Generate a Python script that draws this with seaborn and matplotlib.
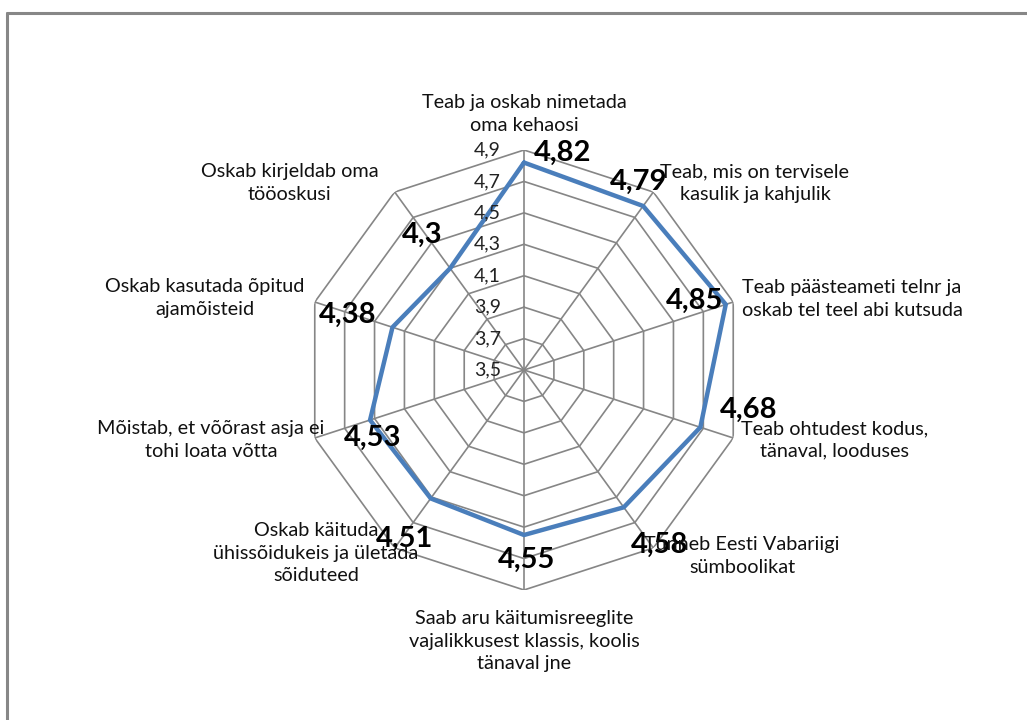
import numpy as np
import matplotlib
matplotlib.use("Agg")
import matplotlib.pyplot as plt
from matplotlib.lines import Line2D
import seaborn as sns

sns.set_style("white")
plt.rcParams["font.family"] = ["Lato", "DejaVu Sans"]

categories = [
    "Teab ja oskab nimetada\noma kehaosi",
    "Teab, mis on tervisele\nkasulik ja kahjulik",
    "Teab päästeameti telnr ja\noskab tel teel abi kutsuda",
    "Teab ohtudest kodus,\ntänaval, looduses",
    "Tunneb Eesti Vabariigi\nsümboolikat",
    "Saab aru käitumisreeglite\nvajalikkusest klassis, koolis\ntänaval jne",
    "Oskab käituda\nühissõidukeis ja ületada\nsõiduteed",
    "Mõistab, et võõrast asja ei\ntohi loata võtta",
    "Oskab kasutada õpitud\najamõisteid",
    "Oskab kirjeldab oma\ntööoskusi",
]
values = [4.82, 4.79, 4.85, 4.68, 4.58, 4.55, 4.51, 4.53, 4.38, 4.3]
value_labels = ["4,82", "4,79", "4,85", "4,68", "4,58", "4,55", "4,51", "4,53", "4,38", "4,3"]
ticks = [3.5, 3.7, 3.9, 4.1, 4.3, 4.5, 4.7, 4.9]
tick_labels = ["3,5", "3,7", "3,9", "4,1", "4,3", "4,5", "4,7", "4,9"]

# label placement (offsets in pixels from the data point)
val_off = [(39, 10), (-5, 24), (-31, 4), (48, 17), (36, -38), (3, -25), (-26, -40), (3, -18), (-45, 12), (-28, 33)]
cat_pos = [(524, 114), (755, 183), (852, 299), (835, 440), (742, 556), (524, 641), (316, 553), (211, 440), (205, 298), (290, 183)]

n = len(categories)
angles = np.arange(n) * 2 * np.pi / n
W, H = 1027, 720
fig = plt.figure(figsize=(W / 100, H / 100), dpi=100)
cx, cy, R = 524, 370, 220
ax = fig.add_axes([(cx - R) / W, (H - cy - R) / H, 2 * R / W, 2 * R / H], polar=True)
ax.set_theta_zero_location("N")
ax.set_theta_direction(-1)
ax.set_ylim(ticks[0], ticks[-1])
ax.grid(False)
ax.spines["polar"].set_visible(False)
ax.set_xticks([])
ax.set_yticks([])
ax.patch.set_alpha(0)

grid_c = "#868686"
for t in ticks[1:]:
    ax.plot(np.append(angles, angles[0]), [t] * (n + 1), color=grid_c, lw=1.2, zorder=1)
for a in angles:
    ax.plot([a, a], [ticks[0], ticks[-1]], color=grid_c, lw=1.2, zorder=1)

ax.plot(np.append(angles, angles[0]), values + values[:1], color="#4A7EBB", lw=3.2, zorder=3, solid_joinstyle="miter")

for t, lab in zip(ticks, tick_labels):
    ax.annotate(lab, (0, t), xytext=(-23, 0), textcoords="offset pixels",
                ha="right", va="center", fontsize=14, color="#222222", zorder=4)

for a, v, lab, off in zip(angles, values, value_labels, val_off):
    ax.annotate(lab, (a, v), xytext=off, textcoords="offset pixels",
                ha="center", va="center", fontsize=21, fontweight="bold", color="black", zorder=5)

for lab, (px, py) in zip(categories, cat_pos):
    fig.text(px / W, 1 - py / H, lab, ha="center", va="center", fontsize=14.3,
             linespacing=1.4, color="#111111", multialignment="center")

# chart border (only top and left edges visible)
fig.add_artist(Line2D([7 / W, 1], [1 - 12.5 / H, 1 - 12.5 / H], color="#878787", lw=2.2))
fig.add_artist(Line2D([7 / W, 7 / W], [0, 1 - 12.5 / H], color="#878787", lw=2.2))

fig.savefig("out.png", dpi=100)
